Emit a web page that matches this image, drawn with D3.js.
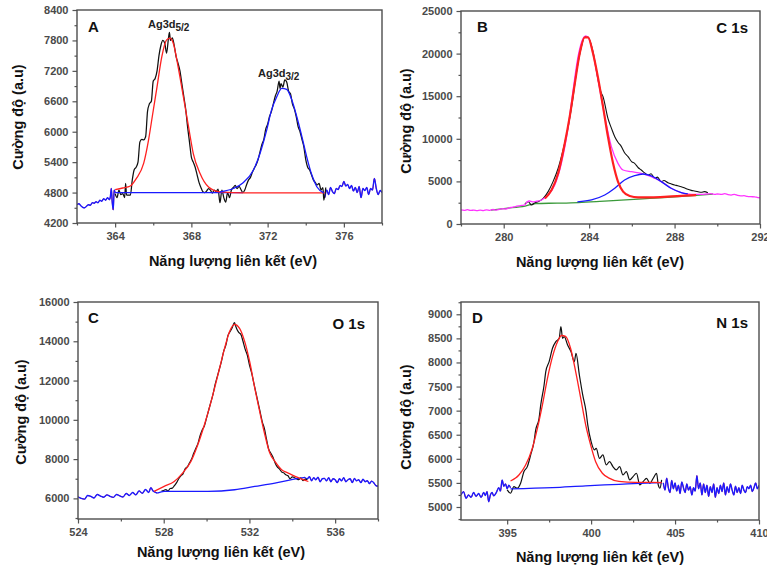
<!DOCTYPE html>
<html><head><meta charset="utf-8">
<script src="https://cdn.jsdelivr.net/npm/d3@7"></script>
<style>body{margin:0;background:#fff}svg{display:block}</style>
</head><body>
<script>
// ---------- DATA ----------
// Panel A (Ag 3d)
const aTicksX = [364, 368, 372, 376];
const aMinorX = [362, 366, 370, 374, 378];
const aTicksY = [4200, 4800, 5400, 6000, 6600, 7200, 7800, 8400];
const aMinorY = [4500, 5100, 5700, 6300, 6900, 7500, 8100];
const aNoiseL = [[362.0,4560],[362.1,4580],[362.2,4540],[362.3,4510],[362.4,4500],[362.5,4530],[362.6,4560],[362.7,4550],[362.8,4600],[362.9,4590],[363.0,4620],[363.1,4600],[363.2,4650],[363.3,4630],[363.4,4680],[363.5,4650],[363.6,4700],[363.7,4660],[363.75,4720],[363.8,4880],[363.85,4600],[363.9,4460],[363.95,4850],[364.0,4800]];
const aNoiseR = [[375.0,4700],[375.1,4850],[375.2,4760],[375.3,4900],[375.4,4820],[375.5,4780],[375.6,4880],[375.7,4860],[375.8,4940],[375.9,4920],[376.0,5020],[376.1,4930],[376.2,4960],[376.3,4880],[376.4,4940],[376.5,4830],[376.6,4900],[376.7,4800],[376.8,4920],[376.9,4700],[377.0,4880],[377.1,4840],[377.2,4900],[377.3,4760],[377.4,4880],[377.5,4850],[377.6,5080],[377.7,4880],[377.8,4760],[377.9,4840],[378.0,4800]];
const aFit1 = [[364.0,4860],[364.4,4890],[364.8,4930],[365.1,5070],[365.5,5380],[365.75,5830],[365.95,6300],[366.2,6890],[366.45,7480],[366.7,7810],[366.88,7845],[367.05,7745],[367.3,7290],[367.58,6690],[367.85,6100],[368.1,5570],[368.45,5180],[368.9,4910],[369.5,4815],[370.7,4795],[375.0,4795]];
const aFit2 = [[369.5,4815],[370.2,4880],[370.7,4990],[371.25,5240],[371.6,5570],[371.95,6030],[372.2,6420],[372.48,6690],[372.74,6855],[373.0,6835],[373.27,6625],[373.53,6295],[373.8,5900],[374.05,5505],[374.32,5145],[374.58,4915],[374.95,4795]];
const aBase = [[364.0,4800],[370.7,4800]];
const aRaw = [[364.0,4780],[364.1,4700],[364.2,4850],[364.3,4760],[364.4,4780],[364.5,4700],[364.55,4980],[364.6,4750],[364.8,4750],[364.9,5050],[365.0,5250],[365.1,5300],[365.2,5400],[365.3,5800],[365.4,5850],[365.5,5840],[365.6,5900],[365.7,6400],[365.8,6550],[365.9,6600],[366.0,7000],[366.1,7050],[366.2,7200],[366.3,7500],[366.4,7700],[366.5,7800],[366.6,7750],[366.7,7550],[366.8,7850],[366.85,7960],[366.9,7800],[367.0,7850],[367.1,7700],[367.2,7480],[367.3,7350],[367.4,7200],[367.5,6950],[367.6,6700],[367.7,6450],[367.8,6100],[367.9,5800],[368.0,5500],[368.1,5400],[368.2,5300],[368.3,5150],[368.4,5000],[368.5,4900],[368.6,4820],[368.7,4800],[368.8,4830],[368.9,4880],[369.0,4850],[369.1,4790],[369.2,4850],[369.3,4820],[369.4,4870],[369.5,4600],[369.6,4850],[369.7,4700],[369.8,4610],[369.9,4800],[370.0,4700],[370.1,4850],[370.2,4900],[370.3,4940],[370.4,4880],[370.5,4920],[370.6,4860],[370.7,4800],[370.8,4850],[370.9,4960],[371.0,5050],[371.1,5100],[371.2,5200],[371.3,5280],[371.4,5350],[371.5,5450],[371.6,5600],[371.7,5750],[371.8,5850],[371.9,6050],[372.0,6150],[372.1,6300],[372.2,6400],[372.3,6550],[372.4,6700],[372.5,6800],[372.6,7000],[372.65,6850],[372.7,6950],[372.8,6880],[372.9,7020],[373.0,6980],[373.1,6800],[373.2,6750],[373.3,6550],[373.4,6450],[373.5,6300],[373.6,6100],[373.7,6000],[373.8,5850],[373.9,5700],[374.0,5450],[374.1,5300],[374.2,5250],[374.3,5150],[374.4,5050],[374.5,5000],[374.6,4950],[374.7,4980],[374.8,4850],[374.9,4900],[374.95,4650],[375.05,4900]];

// Panel B (C 1s)
const bTicksX = [280, 284, 288, 292];
const bMinorX = [278, 282, 286, 290];
const bTicksY = [0, 5000, 10000, 15000, 20000, 25000];
const bMinorY = [2500, 7500, 12500, 17500, 22500];
const bEnvelope = [[278.0,1650],[278.15,1600],[278.3,1680],[278.45,1590],[278.6,1640],[278.75,1560],[278.9,1620],[279.05,1580],[279.2,1660],[279.35,1600],[279.5,1700],[279.65,1640],[279.8,1720],[279.95,1800],[280.1,1760],[280.25,1900],[280.4,1960],[280.55,2050],[280.7,2120],[280.85,2180],[281.0,2250],[281.1,2600],[281.2,2700],[281.35,2600],[281.5,2650],[281.77,2820],[282.08,3400],[282.39,4580],[282.7,7120],[283.02,11430],[283.25,15730],[283.48,19640],[283.72,21800],[283.84,22070],[283.98,21800],[284.18,20030],[284.42,16900],[284.73,12600],[285.04,9080],[285.35,7120],[285.59,6340],[285.98,6140],[286.44,5950],[286.91,5560],[287.38,4970],[287.84,4190],[288.31,3680],[288.78,3480],[289.25,3480],[289.5,3520],[289.71,3560],[289.9,3480],[290.0,3520],[290.18,3480],[290.35,3560],[290.5,3450],[290.65,3400],[290.8,3480],[290.95,3350],[291.1,3300],[291.25,3320],[291.4,3250],[291.58,3210],[291.75,3180],[291.9,3100],[292.0,3080]];
const bFit1 = [[281.93,3010],[282.24,3990],[282.55,5950],[282.86,9470],[283.09,12600],[283.33,16510],[283.56,20030],[283.79,21910],[283.95,21910],[284.18,20030],[284.42,17100],[284.65,13770],[284.88,10250],[285.12,7120],[285.35,4970],[285.59,3800],[285.9,3290],[286.29,3130],[286.91,3130],[287.69,3210],[288.47,3330],[289.01,3400]];
const bFit2 = [[283.45,2600],[284.11,2820],[284.73,3400],[285.2,4190],[285.66,5170],[286.13,5670],[286.52,5870],[286.91,5640],[287.38,4970],[287.84,4190],[288.31,3680],[288.62,3520]];
const bBase = [[279.4,1640],[280.1,1840],[281.0,2110],[281.5,2400],[282.5,2450],[283.5,2520],[284.5,2650],[285.5,2800],[286.5,2950],[287.5,3100],[288.7,3300],[289.8,3520]];
const bRaw = [[280.99,2350],[281.15,2620],[281.3,2230],[281.46,2500],[281.61,2620],[281.85,3010],[282.08,3800],[282.31,4970],[282.55,6540],[282.78,8690],[283.02,11430],[283.25,14950],[283.4,17690],[283.64,20820],[283.79,21990],[283.95,21910],[284.18,20230],[284.42,16900],[284.55,15500],[284.65,14950],[284.88,12400],[285.05,11200],[285.2,10250],[285.35,9600],[285.51,9080],[285.65,8400],[285.82,7900],[286.0,7300],[286.13,7120],[286.3,6600],[286.44,6340],[286.6,6000],[286.76,5750],[286.9,5900],[287.07,5360],[287.2,5500],[287.38,4970],[287.5,5100],[287.69,4850],[287.85,4700],[288.0,4580],[288.15,4500],[288.31,4380],[288.45,4250],[288.62,4070],[288.78,3950],[288.93,3870],[289.1,3780],[289.25,3720],[289.4,3800],[289.56,3680]];

// Panel C (O 1s)
const cTicksX = [524, 528, 532, 536];
const cMinorX = [526, 530, 534, 538];
const cTicksY = [6000, 8000, 10000, 12000, 14000, 16000];
const cMinorY = [5000, 7000, 9000, 11000, 13000, 15000];
const cNoiseL = [[524.0,6080],[524.15,6000],[524.3,5960],[524.45,6150],[524.6,6100],[524.75,6020],[524.9,6200],[525.05,6120],[525.2,6060],[525.35,6180],[525.5,6100],[525.65,6050],[525.8,6200],[525.95,6130],[526.1,6070],[526.25,6250],[526.4,6150],[526.55,6300],[526.7,6180],[526.85,6380],[527.0,6260],[527.15,6450],[527.3,6300],[527.4,6550],[527.5,6380],[527.6,6320],[527.7,6270]];
const cNoiseR = [[534.6,7050],[534.7,7000],[534.8,7100],[534.9,6900],[535.0,7050],[535.1,6950],[535.2,7080],[535.3,6850],[535.4,7000],[535.5,7020],[535.6,6900],[535.7,7050],[535.8,6850],[535.9,7000],[536.0,6950],[536.1,6800],[536.2,7000],[536.3,6900],[536.4,7050],[536.5,6850],[536.6,6950],[536.7,7000],[536.8,6800],[536.9,7020],[537.0,6900],[537.1,6950],[537.2,6800],[537.3,6980],[537.4,6850],[537.5,6900],[537.6,6750],[537.7,6880],[537.8,6800],[537.9,6650],[538.0,6620]];
const cFit = [[527.55,6360],[528.02,6610],[528.49,6860],[528.88,7290],[529.27,7880],[529.59,8730],[529.9,9750],[530.21,10930],[530.53,12290],[530.84,13640],[531.07,14490],[531.31,14860],[531.54,14660],[531.78,13980],[532.01,12970],[532.25,11610],[532.48,10420],[532.72,9240],[532.95,8310],[533.19,7880],[533.5,7460],[533.81,7290],[534.13,7120],[534.44,6980],[534.75,6860]];
const cBase = [[527.7,6270],[528.02,6360],[528.96,6360],[530.06,6360],[531.31,6440],[532.25,6610],[533.19,6780],[533.97,6950],[534.6,7070]];
const cRaw = [[527.9,6380],[528.0,6400],[528.1,6450],[528.2,6380],[528.3,6500],[528.4,6520],[528.5,6650],[528.6,6800],[528.7,7000],[528.8,7150],[528.9,7250],[529.0,7500],[529.1,7600],[529.2,7800],[529.3,8000],[529.4,8300],[529.5,8550],[529.6,8800],[529.7,9200],[529.8,9500],[529.9,9700],[530.0,10100],[530.1,10500],[530.2,10900],[530.3,11300],[530.4,11800],[530.5,12200],[530.6,12600],[530.7,13000],[530.8,13500],[530.9,13800],[531.0,14300],[531.1,14500],[531.2,14700],[531.3,14950],[531.35,14800],[531.4,14650],[531.5,14450],[531.6,14350],[531.7,14000],[531.8,13600],[531.9,13300],[532.0,12800],[532.1,12400],[532.2,11900],[532.3,11400],[532.4,10900],[532.5,10400],[532.6,9900],[532.7,9550],[532.8,9000],[532.9,8500],[533.0,8300],[533.1,8100],[533.2,7800],[533.3,7600],[533.4,7500],[533.5,7350],[533.6,7300],[533.7,7200],[533.8,7150],[533.9,7000],[534.0,7100],[534.1,7050],[534.2,7000],[534.3,6950],[534.4,7050],[534.5,6900],[534.6,6980],[534.7,6950]];

// Panel D (N 1s)
const dTicksX = [395, 400, 405, 410];
const dMinorX = [397.5, 402.5, 407.5];
const dTicksY = [5000, 5500, 6000, 6500, 7000, 7500, 8000, 8500, 9000];
const dMinorY = [4750, 5250, 5750, 6250, 6750, 7250, 7750, 8250, 8750, 9250];
const dNoiseL = [[392.25,5250],[392.4,5320],[392.55,5180],[392.7,5250],[392.85,5200],[393.0,5300],[393.15,5220],[393.3,5280],[393.45,5200],[393.6,5300],[393.7,5240],[393.8,5320],[393.9,5110],[394.0,5250],[394.1,5300],[394.2,5230],[394.35,5300],[394.5,5400],[394.6,5330],[394.7,5560],[394.8,5430],[394.9,5480],[395.0,5380],[395.1,5450],[395.2,5400]];
const dNoiseR = [[404.3,5500],[404.4,5350],[404.5,5600],[404.6,5400],[404.7,5300],[404.8,5550],[404.9,5380],[405.0,5500],[405.1,5330],[405.2,5450],[405.3,5280],[405.4,5520],[405.5,5400],[405.6,5300],[405.7,5480],[405.8,5350],[405.9,5420],[406.0,5250],[406.1,5400],[406.2,5330],[406.3,5650],[406.4,5380],[406.5,5500],[406.6,5250],[406.7,5480],[406.8,5300],[406.9,5450],[407.0,5220],[407.1,5420],[407.2,5300],[407.3,5480],[407.4,5200],[407.5,5400],[407.6,5280],[407.7,5450],[407.8,5320],[407.9,5500],[408.0,5250],[408.1,5420],[408.2,5300],[408.3,5480],[408.4,5350],[408.5,5250],[408.6,5430],[408.7,5300],[408.8,5400],[408.9,5280],[409.0,5450],[409.1,5350],[409.2,5300],[409.3,5420],[409.4,5380],[409.5,5450],[409.6,5320],[409.7,5400],[409.8,5500],[409.9,5380],[410.0,5450]];
const dFit = [[395.2,5540],[395.5,5600],[395.7,5665],[396.1,5870],[396.5,6220],[396.8,6630],[397.1,7120],[397.4,7670],[397.7,8120],[398.0,8430],[398.24,8560],[398.48,8540],[398.78,8290],[399.08,7810],[399.38,7260],[399.68,6700],[399.97,6290],[400.27,5940],[400.67,5700],[401.07,5600],[401.66,5530],[402.65,5510],[403.65,5510],[404.2,5505]];
const dBase = [[395.2,5375],[397.7,5400],[399.67,5440],[401.66,5470],[402.86,5490],[404.2,5506]];
const dRaw = [[395.0,5354],[395.2,5285],[395.4,5424],[395.6,5389],[395.8,5492],[396.0,5735],[396.2,5838],[396.4,6080],[396.6,6357],[396.7,6599],[396.9,6841],[397.0,7118],[397.2,7533],[397.3,7810],[397.5,8017],[397.7,8294],[397.9,8432],[398.1,8501],[398.2,8743],[398.3,8501],[398.4,8536],[398.6,8363],[398.8,8225],[399.0,8017],[399.1,8190],[399.3,7740],[399.5,7325],[399.7,6980],[399.8,6703],[400.0,6357],[400.2,6184],[400.3,6219],[400.5,6011],[400.7,6080],[400.9,5873],[401.1,5942],[401.3,5838],[401.5,5769],[401.7,5838],[401.9,5665],[402.1,5735],[402.3,5562],[402.5,5631],[402.7,5700],[402.9,5458],[403.1,5527],[403.3,5596],[403.5,5492],[403.7,5596],[403.9,5700],[404.0,5458],[404.1,5389],[404.2,5562]];

// ---------- DRAW ----------
const W = 767, H = 569;
const FONT = "'Liberation Sans', Arial, sans-serif";
const svg = d3.select("body").append("svg").attr("width", W).attr("height", H)
  .style("font-family", FONT);
svg.append("rect").attr("width", W).attr("height", H).attr("fill", "#fff");

const RED = "#ff2020", BLUE = "#1a1aff", BLACK = "#111", MAG = "#ff33ff", GREEN = "#3a9a3a";

const panels = [
  {id:"A", box:[77,382,10,223], xd:[362,378], yd:[4200,8400], tx:aTicksX, mx:aMinorX, ty:aTicksY, my:aMinorY,
   ytitle:[23,117], xtitle:[233,266], letter:[88,32],
   series:[[aNoiseL,RED,1.0],[aNoiseL,BLUE,1.4],[aNoiseR,RED,1.0],[aNoiseR,BLUE,1.4],[aRaw,BLACK,1.25],[aBase,BLUE,1.3],[aFit1,RED,1.3],[aFit2,BLUE,1.3]]},
  {id:"B", box:[461,760,11,224], xd:[278,292], yd:[0,25000], tx:bTicksX, mx:bMinorX, ty:bTicksY, my:bMinorY,
   ytitle:[411,121], xtitle:[600,267], letter:[477,32], tag:["C 1s",748,33],
   series:[[bBase,GREEN,1.3],[bRaw,BLACK,1.1],[bEnvelope,MAG,1.3],[bFit2,BLUE,1.3],[bFit1,RED,2.2]]},
  {id:"C", box:[78,378,302,519], xd:[524,538], yd:[4950,16000], tx:cTicksX, mx:cMinorX, ty:cTicksY, my:cMinorY,
   ytitle:[26,412], xtitle:[221,557], letter:[88,323], tag:["O 1s",365,329],
   series:[[cNoiseL,RED,1.0],[cNoiseL,BLUE,1.4],[cNoiseR,RED,1.0],[cNoiseR,BLUE,1.4],[cRaw,BLACK,1.2],[cBase,BLUE,1.3],[cFit,RED,1.3]]},
  {id:"D", box:[461,759,302,520], xd:[392.25,410], yd:[4730,9255], tx:dTicksX, mx:dMinorX, ty:dTicksY, my:dMinorY,
   ytitle:[411,417], xtitle:[600,562], letter:[472,323], tag:["N 1s",748,328],
   series:[[dNoiseL,RED,1.0],[dNoiseL,BLUE,1.4],[dNoiseR,RED,1.0],[dNoiseR,BLUE,1.4],[dRaw,BLACK,1.2],[dBase,BLUE,1.3],[dFit,RED,1.3]]}
];

panels.forEach(p => {
  const [l, r, t, b] = p.box;
  const x = d3.scaleLinear().domain(p.xd).range([l, r]);
  const y = d3.scaleLinear().domain(p.yd).range([b, t]);
  const g = svg.append("g");
  const clipId = "clip" + p.id;
  g.append("clipPath").attr("id", clipId).append("rect")
    .attr("x", l).attr("y", t).attr("width", r - l).attr("height", b - t);

  const line = d3.line().x(d => x(d[0])).y(d => y(d[1])).curve(d3.curveMonotoneX);
  const lg = g.append("g").attr("clip-path", `url(#${clipId})`);
  p.series.forEach(([data, color, w]) => {
    lg.append("path").attr("d", line(data)).attr("fill", "none")
      .attr("stroke", color).attr("stroke-width", w).attr("stroke-linejoin", "round");
  });

  // axes
  const styleAxis = sel => {
    sel.select(".domain").remove();
    sel.selectAll("line").attr("stroke", "#555").attr("stroke-width", 1.2);
    sel.selectAll("text").attr("fill", "#4a4a4a").attr("font-size", 11).attr("font-weight", "bold")
      .attr("font-family", FONT);
  };
  g.append("g").attr("transform", `translate(0,${b})`)
    .call(d3.axisBottom(x).tickValues(p.mx.filter(v => v >= p.xd[0] && v <= p.xd[1])).tickSize(2.5).tickFormat(""))
    .call(styleAxis);
  g.append("g").attr("transform", `translate(0,${b})`)
    .call(d3.axisBottom(x).tickValues(p.tx).tickSize(4.5).tickPadding(5).tickFormat(d3.format("d")))
    .call(styleAxis);
  g.append("g").attr("transform", `translate(${l},0)`)
    .call(d3.axisLeft(y).tickValues(p.my.filter(v => v >= p.yd[0] && v <= p.yd[1])).tickSize(2.5).tickFormat(""))
    .call(styleAxis);
  g.append("g").attr("transform", `translate(${l},0)`)
    .call(d3.axisLeft(y).tickValues(p.ty).tickSize(4.5).tickPadding(4).tickFormat(d3.format("d")))
    .call(styleAxis);

  g.append("rect").attr("x", l).attr("y", t).attr("width", r - l).attr("height", b - t)
    .attr("fill", "none").attr("stroke", "#4d4d4d").attr("stroke-width", 1.4);

  // titles
  g.append("text").attr("x", p.xtitle[0]).attr("y", p.xtitle[1]).attr("text-anchor", "middle")
    .attr("font-size", 14.5).attr("font-weight", "bold").attr("fill", "#111")
    .text("Năng lượng liên kết (eV)");
  g.append("text").attr("transform", `translate(${p.ytitle[0]},${p.ytitle[1]}) rotate(-90)`)
    .attr("text-anchor", "middle").attr("font-size", 14.5).attr("font-weight", "bold").attr("fill", "#111")
    .text("Cường độ (a.u)");
  g.append("text").attr("x", p.letter[0]).attr("y", p.letter[1])
    .attr("font-size", 15).attr("font-weight", "bold").attr("fill", "#111").text(p.id);
  if (p.tag) {
    g.append("text").attr("x", p.tag[1]).attr("y", p.tag[2]).attr("text-anchor", "end")
      .attr("font-size", 15).attr("font-weight", "bold").attr("fill", "#111").text(p.tag[0]);
  }
});

// Peak labels in panel A
const peakLabels = [["Ag3d", "5/2", 148, 28], ["Ag3d", "3/2", 258, 77]];
peakLabels.forEach(([main, sub, px, py]) => {
  const t = svg.append("text").attr("x", px).attr("y", py).attr("font-size", 11)
    .attr("font-weight", "bold").attr("fill", "#222").text(main);
  t.append("tspan").attr("dy", 3).attr("font-size", 10).text(sub);
});
</script>
</body></html>
